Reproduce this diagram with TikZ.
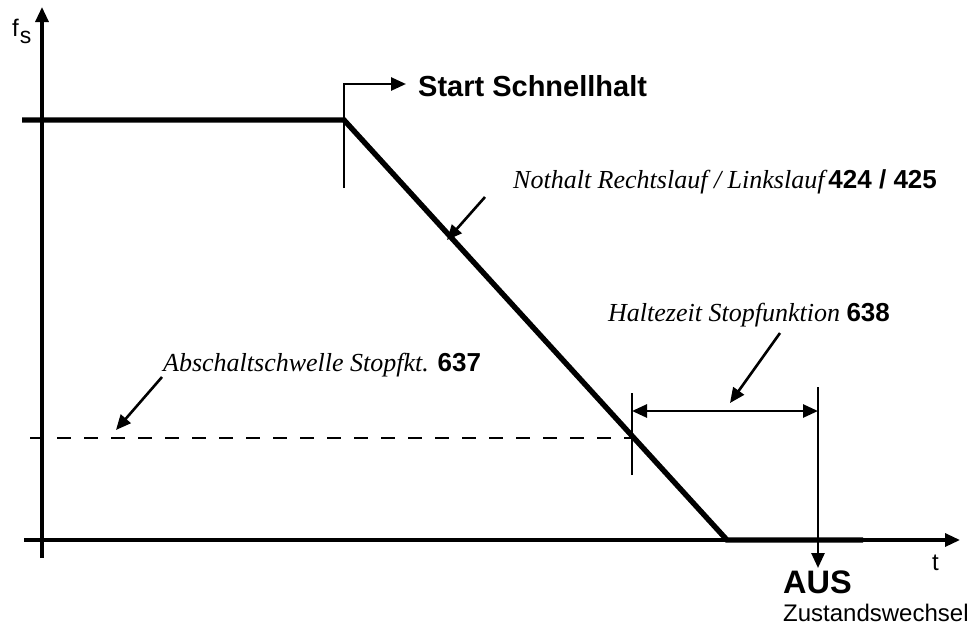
\documentclass[tikz,border=0pt]{standalone}
\usepackage{fontspec}
\setmainfont{Liberation Serif}
\setsansfont{Liberation Sans}
\usetikzlibrary{positioning}
\usetikzlibrary{arrows.meta}

\tikzset{
	axis/.style = {black, line width = 3.2pt, -{Triangle[length = 15pt, width = 13pt]}},
	speed/.style = {black, line width = 5.4pt},
	tickline/.style = {black, line width = 2.7pt},
	pointer/.style = {black, line width = 2.6pt, -{Triangle[length = 15pt, width = 13pt]}},
	label/.style = {inner sep = 0pt, anchor = base west},
	sans/.style = {label, font = \sffamily\fontsize{24}{28}\selectfont},
	boldsans/.style = {label, font = \sffamily\bfseries\fontsize{32.5}{36}\selectfont},
	note/.style = {label, font = \itshape\fontsize{26}{30}\selectfont}
}

\begin{document}
\begin{tikzpicture}[x = 1pt, y = -1pt]
	\useasboundingbox (0, 0) rectangle (977, 625);
	% axes
	\coordinate (ybot) at (42, 558);
	\coordinate (ytop) at (42, 7);
	\coordinate (xleft) at (24, 540);
	\coordinate (xright) at (960, 540);
	\draw [axis] (ybot) -- (ytop);
	\draw [axis] (xleft) -- (xright);
	\node [sans] (fs) at (12, 36) {f\kern1pt\raisebox{-7pt}{\fontsize{23}{23}\selectfont s}};
	\node [sans] (t) at (932, 570) {t};
	% speed profile
	\coordinate (run0) at (22, 120);
	\coordinate (brake) at (344, 120);
	\coordinate (zero) at (727, 540);
	\coordinate (zero1) at (863, 540);
	\draw [speed] (run0) -- (brake) -- (zero) -- (zero1);
	% start of quick stop
	\coordinate (startlow) at (344, 188);
	\coordinate (starthigh) at (344, 84);
	\coordinate (startend) at (406, 84);
	\draw [tickline, -{Triangle[length = 15pt, width = 13pt]}] (startlow) -- (starthigh) -- (startend);
	\node [boldsans, font = \sffamily\bfseries\fontsize{29}{33}\selectfont] (start) at (418, 96) {Start Schnellhalt};
	% ramp label
	\node [note] (ramp) at (513, 188) {Nothalt Rechtslauf / Linkslauf\kern4pt\textup{\sffamily\bfseries 424 / 425}};
	\coordinate (rampfrom) at (485, 197);
	\coordinate (rampto) at (447, 240);
	\draw [pointer] (rampfrom) -- (rampto);
	% threshold
	\coordinate (thrleft) at (30, 438);
	\coordinate (thrright) at (632, 438);
	\draw [tickline, dash pattern = on 14pt off 13pt] (thrleft) -- (thrright);
	\node [note] (thr) at (163, 371) {Abschaltschwelle Stopfkt. \textup{\sffamily\bfseries 637}};
	\coordinate (thrfrom) at (162, 377);
	\coordinate (thrto) at (116, 430);
	\draw [pointer] (thrfrom) -- (thrto);
	% holding time
	\coordinate (holdlow) at (632, 475);
	\coordinate (holdhigh) at (632, 393);
	\draw [tickline] (holdlow) -- (holdhigh);
	\coordinate (offhigh) at (818, 387);
	\coordinate (offlow) at (818, 568);
	\draw [tickline, -{Triangle[length = 15pt, width = 13pt]}] (offhigh) -- (offlow);
	\draw [tickline, {Triangle[length = 15pt, width = 13pt]}-{Triangle[length = 15pt, width = 13pt]}] (632, 411) coordinate (holdleft) -- (818, 411) coordinate (holdright);
	\node [note] (hold) at (608, 321) {Haltezeit Stopfunktion \textup{\sffamily\bfseries 638}};
	\coordinate (holdfrom) at (780, 333);
	\coordinate (holdto) at (730, 403);
	\draw [pointer] (holdfrom) -- (holdto);
	% off state
	\node [boldsans] (aus) at (783, 593) {AUS};
	\node [sans] (state) at (783, 621) {Zustandswechsel};
\end{tikzpicture}
\end{document}
